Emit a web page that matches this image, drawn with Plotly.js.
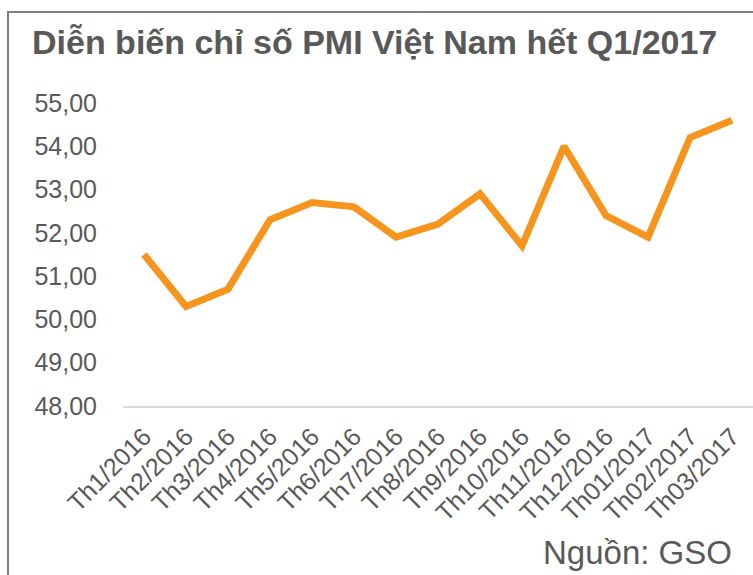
<!DOCTYPE html>
<html>
<head>
<meta charset="utf-8">
<script src="https://cdn.plot.ly/plotly-3.0.1.min.js"></script>
<style>
  html, body { margin: 0; padding: 0; background: #ffffff; }
  #wrap { position: relative; width: 753px; height: 575px; overflow: hidden; }
  #frame { position: absolute; left: 7px; top: 11px; width: 800px; height: 700px; border: 2px solid #808080; }
  #chart { position: absolute; left: 0; top: 0; width: 753px; height: 575px; }
</style>
</head>
<body>
<div id="wrap">
  <div id="frame"></div>
  <div id="chart"></div>
</div>
<script>
const months = ["Th1/2016","Th2/2016","Th3/2016","Th4/2016","Th5/2016","Th6/2016","Th7/2016","Th8/2016","Th9/2016","Th10/2016","Th11/2016","Th12/2016","Th01/2017","Th02/2017","Th03/2017"];
const pmi = [51.5, 50.3, 50.7, 52.3, 52.7, 52.6, 51.9, 52.2, 52.9, 51.7, 54.0, 52.4, 51.9, 54.2, 54.6];
const chartTitle = "Diễn biến chỉ số PMI Việt Nam hết Q1/2017";
const sourceNote = "Nguồn: GSO";

const fontFam = "Liberation Sans, Arial, sans-serif";

Plotly.newPlot("chart", [{
  type: "scatter",
  mode: "lines",
  x: months,
  y: pmi,
  line: { color: "#F7941D", width: 7 },
  hoverinfo: "skip"
}], {
  width: 753,
  height: 575,
  margin: { l: 123, r: 0, t: 103, b: 169 },
  paper_bgcolor: "rgba(0,0,0,0)",
  plot_bgcolor: "rgba(0,0,0,0)",
  separators: ",.",
  showlegend: false,
  title: {
    text: "<b>" + chartTitle + "</b>",
    font: { family: fontFam, size: 34, color: "#595959" },
    xref: "container", yref: "container",
    x: 32 / 753, xanchor: "left",
    y: 1 - 42 / 575, yanchor: "middle"
  },
  xaxis: {
    type: "category",
    range: [-0.5, 14.5],
    showgrid: false, zeroline: false,
    showline: true, linecolor: "#d9d9d9", linewidth: 2,
    tickangle: -45,
    ticks: "outside", ticklen: 4, tickcolor: "rgba(0,0,0,0)",
    tickfont: { family: fontFam, size: 25, color: "#595959" }
  },
  yaxis: {
    range: [48, 55],
    dtick: 1,
    tickformat: ".2f",
    showgrid: false, zeroline: false, showline: false,
    ticks: "outside", ticklen: 20, tickcolor: "rgba(0,0,0,0)",
    tickfont: { family: fontFam, size: 25, color: "#595959" }
  },
  annotations: [{
    text: sourceNote,
    xref: "paper", yref: "paper",
    x: (734 - 123) / 630, xanchor: "right",
    y: -(552 - 406) / 303, yanchor: "middle",
    showarrow: false,
    font: { family: fontFam, size: 33, color: "#595959" }
  }]
}, { displayModeBar: false, staticPlot: true });
</script>
</body>
</html>
